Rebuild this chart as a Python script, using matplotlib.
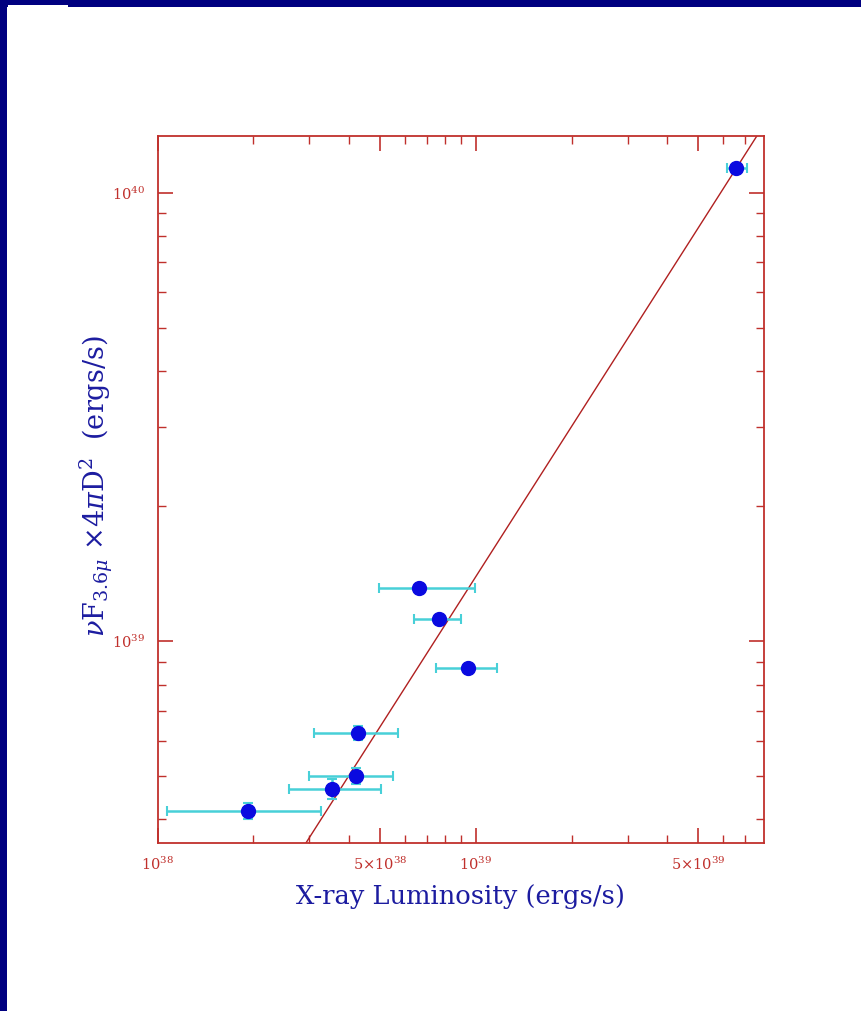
import numpy as np
import matplotlib
matplotlib.use("Agg")
import matplotlib.pyplot as plt
from matplotlib.patches import Rectangle
from matplotlib.ticker import FixedLocator, NullFormatter

plt.rcParams["font.family"] = ["DejaVu Serif"]
plt.rcParams["mathtext.fontset"] = "dejavuserif"

# X-ray luminosity (erg/s) with asymmetric horizontal error ranges
lx = np.array([1.92e38, 3.54e38, 4.19e38, 4.27e38, 6.63e38, 7.67e38, 9.44e38, 6.57e39])
lx_lo = np.array([1.07e38, 2.59e38, 3.00e38, 3.09e38, 4.95e38, 6.41e38, 7.48e38, 6.15e39])
lx_hi = np.array([3.26e38, 5.02e38, 5.50e38, 5.68e38, 9.95e38, 8.99e38, 1.164e39, 7.11e39])

# 3.6 micron luminosity nu F_nu * 4 pi D^2 (erg/s) and its uncertainty
lir = np.array([4.18e38, 4.68e38, 5.00e38, 6.25e38, 1.311e39, 1.118e39, 8.69e38, 1.135e40])
lir_err = np.array([0.18e38, 0.24e38, 0.21e38, 0.23e38, 0.0, 0.0, 0.0, 0.0])

# power-law fit: log L_IR = slope * (log L_X - 39) + log_norm
fit_slope = 1.113
fit_log_norm = 39.144

x_major = [1e38, 5e38, 1e39, 5e39]
x_major_labels = [r"$10^{38}$", r"$5{\times}10^{38}$", r"$10^{39}$", r"$5{\times}10^{39}$"]
x_minor = [2e38, 3e38, 4e38, 6e38, 7e38, 8e38, 9e38, 2e39, 3e39, 4e39, 6e39, 7e39]
y_major = [1e39, 1e40]
y_major_labels = [r"$10^{39}$", r"$10^{40}$"]
y_minor = [4e38, 5e38, 6e38, 7e38, 8e38, 9e38, 2e39, 3e39, 4e39, 5e39, 6e39, 7e39, 8e39, 9e39]

axis_red = "#c0302c"
label_blue = "#1c1ca0"

fig = plt.figure(figsize=(8.61, 10.11), dpi=100)
fig.patch.set_facecolor("white")

# navy frame along the top and left edges
fig.patches.append(Rectangle((0, 1 - 7 / 1011), 1, 7 / 1011, transform=fig.transFigure,
                             facecolor="#000080", edgecolor="none", zorder=0))
fig.patches.append(Rectangle((0, 0), 7 / 861, 1, transform=fig.transFigure,
                             facecolor="#000080", edgecolor="none", zorder=0))
fig.patches.append(Rectangle((8 / 861, 1 - 7 / 1011), 60 / 861, 2 / 1011, transform=fig.transFigure,
                             facecolor="white", edgecolor="none", zorder=1))

ax = fig.add_axes([157.7 / 861, 1 - 842.7 / 1011, (764 - 157.7) / 861, (842.7 - 136) / 1011])
ax.set_xscale("log")
ax.set_yscale("log")
ax.set_xlim(1e38, 8.05e39)
ax.set_ylim(3.55e38, 1.34e40)

# fitted relation
xfit = np.array([1e38, 8.05e39])
yfit = 10 ** (fit_slope * (np.log10(xfit) - 39) + fit_log_norm)
ax.plot(xfit, yfit, color="#b02020", lw=1.0, zorder=2)

# error bars and points
xerr = np.vstack([lx - lx_lo, lx_hi - lx])
ax.errorbar(lx, lir, xerr=xerr, yerr=lir_err, fmt="none", ecolor="#48d0d8",
            elinewidth=1.8, capsize=3.5, capthick=1.5, zorder=3)
ax.plot(lx, lir, "o", color="#0a0ae0", markersize=10, zorder=4)

for s in ax.spines.values():
    s.set_color(axis_red)
    s.set_linewidth(1.3)

ax.xaxis.set_major_locator(FixedLocator(x_major))
ax.xaxis.set_minor_locator(FixedLocator(x_minor))
ax.yaxis.set_major_locator(FixedLocator(y_major))
ax.yaxis.set_minor_locator(FixedLocator(y_minor))
ax.set_xticklabels(x_major_labels)
ax.set_yticklabels(y_major_labels)
ax.xaxis.set_minor_formatter(NullFormatter())
ax.yaxis.set_minor_formatter(NullFormatter())
ax.tick_params(which="both", direction="in", top=True, right=True, color=axis_red,
               labelcolor=axis_red, labelsize=10.5)
ax.tick_params(which="major", length=11, width=1.2, pad=9)
ax.tick_params(which="minor", length=6, width=1.0)

ax.set_xlabel("X-ray Luminosity (ergs/s)", color=label_blue, fontsize=18.5, labelpad=8)
ax.set_ylabel(r"$\nu$F$_{3.6\mu}$ $\times4\pi$D$^2$  (ergs/s)", color=label_blue,
              fontsize=19.5)
ax.yaxis.set_label_coords(-0.07, 0.505)

fig.savefig("out.png", dpi=100, facecolor="white")
